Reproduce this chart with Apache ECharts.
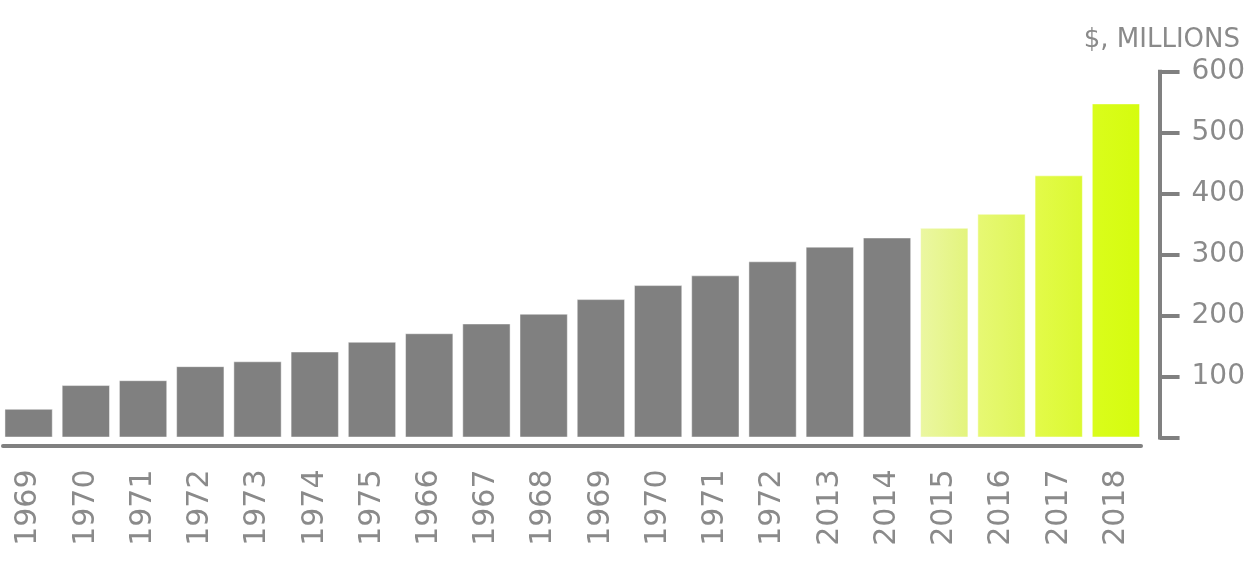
<!DOCTYPE html>
<html>
<head>
<meta charset="utf-8">
<script src="https://cdn.jsdelivr.net/npm/echarts@6/dist/echarts.min.js"></script>
<style>
html,body{margin:0;padding:0;background:#fff;}
#c{width:1248px;height:564px;}
</style>
</head>
<body>
<div id="c"></div>
<script>
const categories = ['1969','1970','1971','1972','1973','1974','1975','1966','1967','1968','1969','1970','1971','1972','2013','2014','2015','2016','2017','2018'];
const values = [47, 86, 94, 117, 125, 141, 157, 171, 187, 203, 227, 250, 266, 289, 313, 328, 344, 367, 430, 548];
const yTicks = [0, 100, 200, 300, 400, 500, 600];
const unitLabel = '$, MILLIONS';

// style only: gradient stops for highlighted years (index -> [left, right])
const highlightStyles = {
  16: ['#ebf7a2', '#e3f47c'],
  17: ['#e7f874', '#dff659'],
  18: ['#e3fa4a', '#dbf931'],
  19: ['#dafd1c', '#d5fc0e']
};
const GRAY = '#808080';
const TEXT = '#8a8a8a';
const FONT = 'DejaVu Sans';

const barData = values.map((v, i) => {
  const hs = highlightStyles[i];
  if (!hs) return v;
  return {
    value: v,
    itemStyle: {
      color: new echarts.graphic.LinearGradient(0, 0, 1, 0, [
        {offset: 0, color: hs[0]}, {offset: 1, color: hs[1]}
      ]),
      borderColor: 'rgba(255,255,255,0.5)'
    }
  };
});

const chart = echarts.init(document.getElementById('c'), null, {renderer: 'canvas'});
chart.setOption({
  animation: false,
  backgroundColor: '#ffffff',
  title: {
    text: unitLabel,
    right: 3,
    top: 22,
    textStyle: {fontFamily: FONT, fontSize: 26, fontWeight: 'normal', color: TEXT}
  },
  grid: [
    {left: -1.5, width: 1147.6, top: 71.7, height: 365.8, containLabel: false},
    {left: 3, width: 1138, top: 71.7, height: 365.8, containLabel: false}
  ],
  xAxis: [
    {
      gridIndex: 0,
      type: 'category',
      data: categories,
      axisLine: {show: false},
      axisTick: {show: false},
      axisLabel: {
        interval: 0,
        rotate: 90,
        margin: 32,
        padding: [0, 0, 9, 0],
        fontFamily: FONT,
        fontSize: 30,
        color: TEXT
      }
    },
    {
      gridIndex: 1,
      type: 'value',
      min: 0,
      max: 1,
      offset: 8,
      position: 'bottom',
      axisLine: {show: true, onZero: false, lineStyle: {color: GRAY, width: 4}},
      axisTick: {show: false},
      axisLabel: {show: false},
      splitLine: {show: false}
    }
  ],
  yAxis: [
    {
      gridIndex: 0,
      type: 'value',
      position: 'right',
      offset: 15,
      min: yTicks[0],
      max: yTicks[yTicks.length - 1],
      interval: 100,
      axisLine: {show: true, lineStyle: {color: GRAY, width: 4, cap: 'square'}},
      axisTick: {show: true, length: 20, lineStyle: {color: GRAY, width: 4}},
      splitLine: {show: false},
      axisLabel: {
        margin: 32,
        padding: [4, 0, 0, 0],
        fontFamily: FONT,
        fontSize: 28,
        color: TEXT,
        formatter: v => (v === 0 ? '' : String(v))
      }
    },
    {gridIndex: 1, type: 'value', min: 0, max: 1, show: false}
  ],
  series: [
    {
      type: 'bar',
      xAxisIndex: 0,
      yAxisIndex: 0,
      data: barData,
      barCategoryGap: '15.6%',
      itemStyle: {color: GRAY, borderColor: 'rgba(255,255,255,0.45)', borderWidth: 1}
    }
  ]
});
</script>
</body>
</html>
